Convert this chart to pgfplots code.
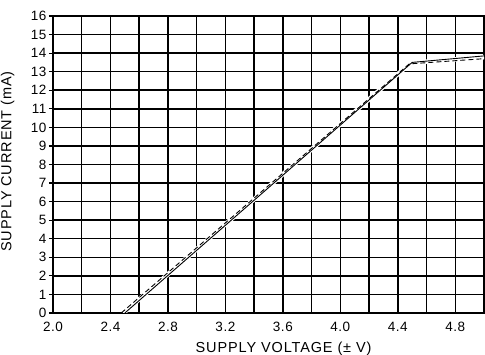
\documentclass[border=0pt]{standalone}
\usepackage{fontspec}
\setmainfont{Liberation Sans}
\newfontfamily\tickfont[LetterSpace=4]{Liberation Sans}
\newfontfamily\labfont[LetterSpace=6]{Liberation Sans}
\usepackage{pgfplots}
\pgfplotsset{compat=1.18}
\begin{document}
\begin{tikzpicture}
\useasboundingbox (0,0) rectangle (485pt,355pt);
\begin{axis}[
  at={(53pt,42pt)}, anchor=south west,
  scale only axis, width=431pt, height=297pt,
  xmin=2.0, xmax=5.0, ymin=0, ymax=16,
  xtick={2.0,2.2,...,5.05},
  xticklabels={2.0,,2.4,,2.8,,3.2,,3.6,,4.0,,4.4,,4.8,},
  ytick={0,1,...,16},
  /pgf/number format/assume math mode=true,
  grid=major,
  major grid style={black, line width=1.5pt},
  axis line style={black, line width=1.7pt},
  xtick style={draw=none},
  ytick style={black, line width=1.2pt},
  tick align=outside, major tick length=4pt,
  tick label style={font=\fontsize{13.5}{16}\tickfont},
  yticklabel style={xshift=1pt},
  xticklabel style={yshift=-2pt},
  xlabel={SUPPLY VOLTAGE (± V)},
  ylabel={SUPPLY CURRENT (mA)},
  label style={font=\fontsize{14.5}{16}\labfont},
  xlabel style={at={(axis description cs:0.535,0)}, anchor=north, yshift=-25pt},
  ylabel style={at={(axis description cs:0,0.51)}, anchor=south, yshift=35pt},
  clip=true,
]
\addplot[white, line width=4.5pt] coordinates {(2.49,0) (4.49,13.47) (5.0,13.78)};
\addplot[black, line width=0.9pt] coordinates {(2.50,0) (4.50,13.50) (5.0,13.85)};
\addplot[black, line width=0.9pt, dash pattern=on 5pt off 3pt] coordinates {(2.475,0) (4.48,13.42) (5.0,13.70)};
\end{axis}
\end{tikzpicture}
\end{document}
